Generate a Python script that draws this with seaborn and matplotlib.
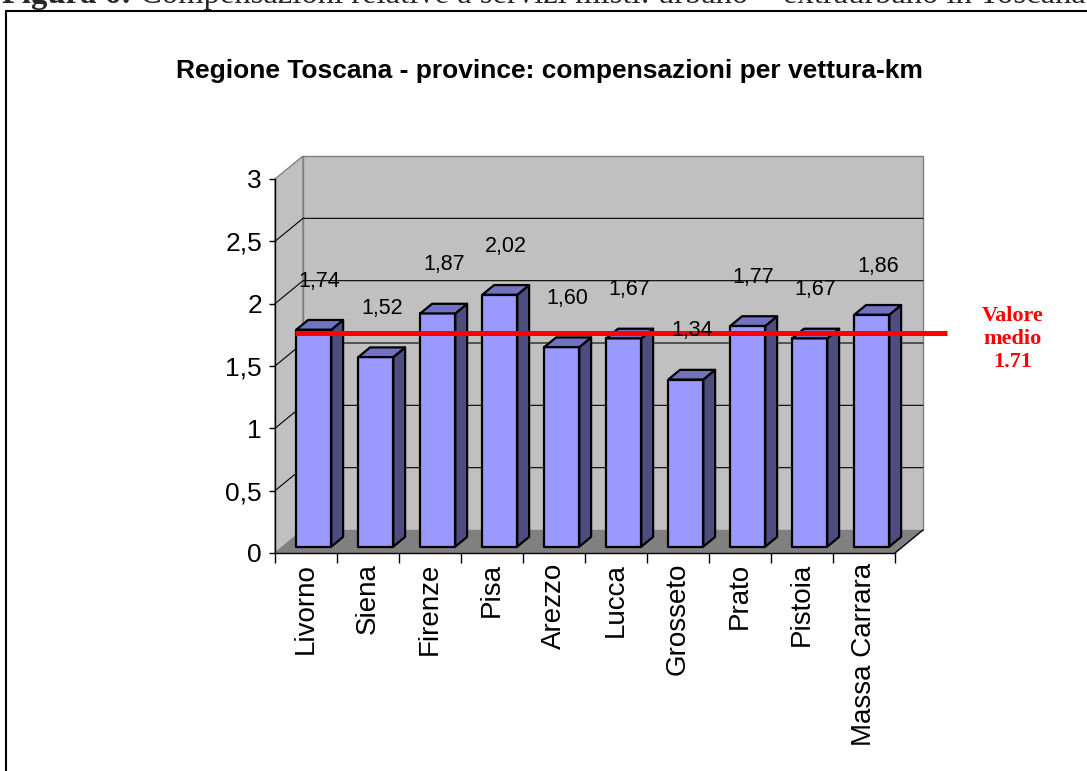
import matplotlib
matplotlib.use("Agg")
import matplotlib.pyplot as plt
import seaborn as sns
import pandas as pd
from matplotlib.patches import Polygon
from matplotlib.lines import Line2D

# ---------------- data ----------------
provinces = ["Livorno", "Siena", "Firenze", "Pisa", "Arezzo", "Lucca",
             "Grosseto", "Prato", "Pistoia", "Massa Carrara"]
values = [1.74, 1.52, 1.87, 2.02, 1.60, 1.67, 1.34, 1.77, 1.67, 1.86]
mean_value = 1.71
y_ticks = [0, 0.5, 1, 1.5, 2, 2.5, 3]
y_tick_labels = ["0", "0,5", "1", "1,5", "2", "2,5", "3"]
title = "Regione Toscana - province: compensazioni per vettura-km"
caption_bold = "Figura 6:"
caption_rest = "Compensazioni relative a servizi misti: urbano + extraurbano in Toscana"

# ---------------- style ----------------
sns.set_style("ticks")
plt.rcParams["font.family"] = ["Liberation Sans", "DejaVu Sans"]

W, H = 1087, 771
fig = plt.figure(figsize=(W / 100, H / 100), dpi=100)
fig.patch.set_facecolor("white")
ax = fig.add_axes([275 / W, (H - 553) / H, 620 / W, 374 / H])
ax.patch.set_visible(False)

df = pd.DataFrame({"provincia": provinces, "valore": values})
sns.barplot(data=df, x="provincia", y="valore", color="#9999FF", saturation=1,
            edgecolor="black", linewidth=1.6, width=0.565, ax=ax, zorder=3)
bars = list(ax.patches)

n = len(provinces)
x0, x1 = -0.5, n - 0.5
ymax = y_ticks[-1]
ax.set_xlim(x0, x1)
ax.set_ylim(0, ymax)
ax.set_xlabel("")
ax.set_ylabel("")

# pseudo 3D depth (data units)
DX, DY = 28 / 62, 23 / 124.67
f0, fb = 0.28, 0.42
ox, oy = f0 * DX, f0 * DY
bx, by = fb * DX, fb * DY

wall_c = "#C0C0C0"
floor_c = "#808080"
side_c = "#4D4D80"
top_c = "#7272C2"

kw = dict(transform=ax.transData, clip_on=False)
# left wall
ax.add_patch(Polygon([(x0, 0), (x0, ymax), (x0 + DX, ymax + DY), (x0 + DX, DY)],
                     closed=True, fc=wall_c, ec="#808080", lw=1, zorder=0.5, **kw))
# back wall
ax.add_patch(Polygon([(x0 + DX, DY), (x1 + DX, DY), (x1 + DX, ymax + DY), (x0 + DX, ymax + DY)],
                     closed=True, fc=wall_c, ec="#808080", lw=1, zorder=0.5, **kw))
# gridlines
for t in y_ticks[1:-1]:
    ax.plot([x0, x0 + DX, x1 + DX], [t, t + DY, t + DY], color="black", lw=0.8,
            zorder=1, **kw)
# floor
ax.add_patch(Polygon([(x0, 0), (x1, 0), (x1 + DX, DY), (x0 + DX, DY)],
                     closed=True, fc=floor_c, ec="none", zorder=1.2, **kw))
ax.plot([x1, x1 + DX], [0, DY], color="black", lw=1, zorder=1.3, **kw)

# bars: shift front faces and add side/top faces
for p in bars:
    x = p.get_x() + ox
    w = p.get_width()
    h = p.get_height()
    p.set_x(x)
    p.set_y(oy)
    p.set_joinstyle("round")
    ax.add_patch(Polygon([(x + w, oy), (x + w, oy + h), (x + w + bx, oy + h + by), (x + w + bx, oy + by)],
                         closed=True, fc=side_c, ec="black", lw=1.6, zorder=3,
                         joinstyle="round", **kw))
    ax.add_patch(Polygon([(x, oy + h), (x + w, oy + h), (x + w + bx, oy + h + by), (x + bx, oy + h + by)],
                         closed=True, fc=top_c, ec="black", lw=1.6, zorder=3,
                         joinstyle="round", **kw))
    ax.text(x + w / 2 + bx / 2, oy + h + 0.39, f"{h:.2f}".replace(".", ","),
            ha="center", va="center", fontsize=15.5, color="black", zorder=6,
            clip_on=False)

# mean line
ax.axhline(mean_value + oy, xmin=20 / 620, xmax=672 / 620, color="#FF0000", lw=3.6,
           clip_on=False, zorder=5, solid_capstyle="butt")

# axes
for s in ["top", "right"]:
    ax.spines[s].set_visible(False)
for s in ["left", "bottom"]:
    ax.spines[s].set_color("black")
    ax.spines[s].set_linewidth(1)
    ax.spines[s].set_zorder(2)

ax.set_yticks(y_ticks, y_tick_labels)
ax.tick_params(axis="y", left=True, direction="out", length=4.3, width=1, pad=5,
               labelsize=19, colors="black")
ax.set_xticks(range(n), provinces, rotation=90)
ax.tick_params(axis="x", which="major", bottom=True, length=0, pad=7, labelsize=20,
               colors="black")
ax.set_xticks([x0 + i for i in range(n + 1)], minor=True)
ax.tick_params(axis="x", which="minor", bottom=True, direction="out", length=7.2,
               width=1, color="black")

# titles and texts
fig.text(549.5 / W, 1 - 78 / H, title, ha="center", va="baseline", fontsize=19,
         fontweight="bold", color="black")
fig.text(1013 / W, 1 - 339 / H, f"Valore\nmedio\n{mean_value:.2f}", ha="center",
         va="center", color="#FF0000", fontweight="bold", fontsize=16,
         family=["Liberation Serif", "DejaVu Serif"], linespacing=1.2)

# frame
fig.add_artist(Line2D([5.5 / W, 1], [1 - 10.5 / H] * 2, color="black", lw=1.5,
                      transform=fig.transFigure))
fig.add_artist(Line2D([5.5 / W, 5.5 / W], [0, 1 - 10.5 / H], color="black", lw=1.5,
                      transform=fig.transFigure))

# caption (cut at top, as in the reference)
t1 = fig.text(2 / W, 1 - 3 / H, caption_bold, fontsize=23.5, fontweight="bold",
              family=["Liberation Serif", "DejaVu Serif"], va="baseline")
fig.canvas.draw()
bb = t1.get_window_extent()
fig.text((bb.x1 + 8) / W, 1 - 3 / H, caption_rest, fontsize=23.5,
         family=["Liberation Serif", "DejaVu Serif"], va="baseline")

fig.savefig("out.png", dpi=100)
